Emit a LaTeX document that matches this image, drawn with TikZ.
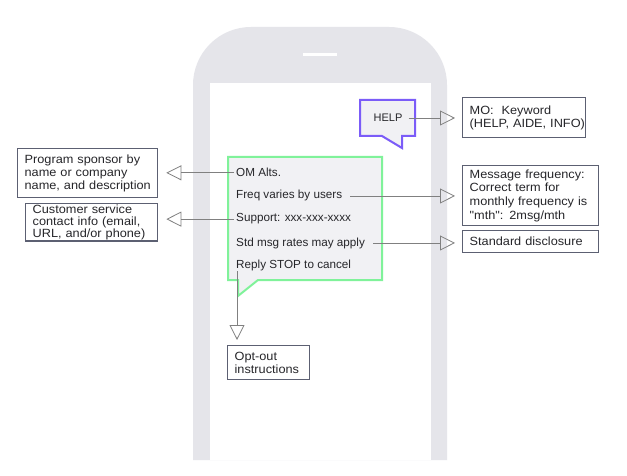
\documentclass[tikz,border=0pt]{standalone}
\usepackage{fontspec}
\setmainfont{Liberation Sans}
\newfontfamily\boxfont[FakeStretch=1.07]{Liberation Sans}
\usetikzlibrary{arrows.meta}
\definecolor{phonegray}{HTML}{E5E5EA}
\definecolor{bubblefill}{HTML}{F1F1F4}
\definecolor{greenline}{HTML}{80F29A}
\definecolor{purpleline}{HTML}{7B5CF8}
\definecolor{boxline}{HTML}{5C6072}
\definecolor{conn}{HTML}{808080}
\definecolor{textc}{HTML}{26262A}
\newcommand\bl[1]{\mbox{#1}}
\tikzset{
  infobox/.style={draw=boxline, line width=1.3pt, fill=white, anchor=north west,
    font=\boxfont\fontsize{11.9}{12.8}\selectfont, text=textc, align=left,
    inner xsep=7pt, inner ysep=1pt},
  msgtext/.style={anchor=base west, inner sep=2pt, text=textc,
    font=\fontsize{11.7}{13}\selectfont},
  connector/.style={draw=conn, line width=0.8pt,
    -{Triangle[open, length=15pt, width=15pt, line width=0.8pt]}},
}
\begin{document}
\begin{tikzpicture}[x=1pt,y=-1pt]
\useasboundingbox (0,0) rectangle (627,476);
\fill[white] (0,0) rectangle (627,476);
% phone
\fill[phonegray] (193,460) [rounded corners=58pt] -- (193,27) -- (447,27) [sharp corners] -- (447,460) -- cycle;
\fill[white] (210,83) rectangle (431,460);
\draw[white, line width=3pt] (303,55) -- (337,55);
% bubbles
\filldraw[fill=bubblefill, draw=purpleline, line width=2pt, line join=miter]
  (360,100) -- (415,100) -- (415,136) -- (402,136) -- (402,148) -- (382,136) -- (360,136) -- cycle;
\filldraw[fill=bubblefill, draw=greenline, line width=2pt, line join=miter]
  (228,157) -- (382,157) -- (382,280) -- (258,280) -- (238,296) -- (238,280) -- (228,280) -- cycle;
% texts
\node[anchor=center, inner sep=1pt, text=textc, font=\fontsize{11}{13}\selectfont] (help) at (388,118) {HELP};
\node[msgtext] (om) at (234,177) {OM Alts.};
\node[msgtext] (freq) at (234,199) {Freq varies by users};
\node[msgtext] (sup) at (234,222) {Support: xxx-xxx-xxxx};
\node[msgtext] (std) at (234,246) {Std msg rates may apply};
\node[msgtext] (stop) at (234,269) {Reply STOP to cancel};
% boxes
\node[infobox, text width=126pt, minimum height=49pt] (sponsor) at (17,148)
  {\bl{Program sponsor by}\\\bl{name or company}\\\bl{name, and description}};
\node[infobox, text width=118pt, minimum height=37pt, font=\boxfont\fontsize{11.9}{12.2}\selectfont] (cust) at (25,203)
  {\bl{Customer service}\\\bl{contact info (email,}\\\bl{URL, and/or phone)}};
\node[infobox, text width=109pt, minimum height=40pt] (mo) at (462,97)
  {\bl{MO:~ Keyword}\\\bl{(HELP, AIDE, INFO)}};
\node[infobox, text width=122pt, minimum height=60pt, font=\boxfont\fontsize{11.9}{13.6}\selectfont] (mf) at (462,165)
  {\bl{Message frequency:}\\\bl{Correct term for}\\\bl{monthly frequency is}\\\bl{"mth": 2msg/mth}};
\node[infobox, text width=122pt, minimum height=22pt] (sd) at (462,230)
  {\bl{Standard disclosure}};
\node[infobox, text width=68pt, minimum height=34pt] (opt) at (227,345)
  {\bl{Opt-out}\\\bl{instructions}};
% connectors
\draw[connector, shorten >=8pt] (om.west) -- (sponsor.east |- om.west);
\draw[connector, shorten >=8pt] (sup.west) -- (cust.east |- sup.west);
\draw[connector, shorten <=5pt, shorten >=7pt] (help.east) -- (mo.west |- help.east);
\draw[connector, shorten <=6pt, shorten >=7pt] (freq.east) -- (mf.west |- freq.east);
\draw[connector, shorten <=6pt, shorten >=7pt] (std.east) -- (sd.west |- std.east);
\coordinate (optstart) at (237,271);
\draw[connector, shorten >=5pt] (optstart) -- (opt.north -| optstart);
\end{tikzpicture}
\end{document}
